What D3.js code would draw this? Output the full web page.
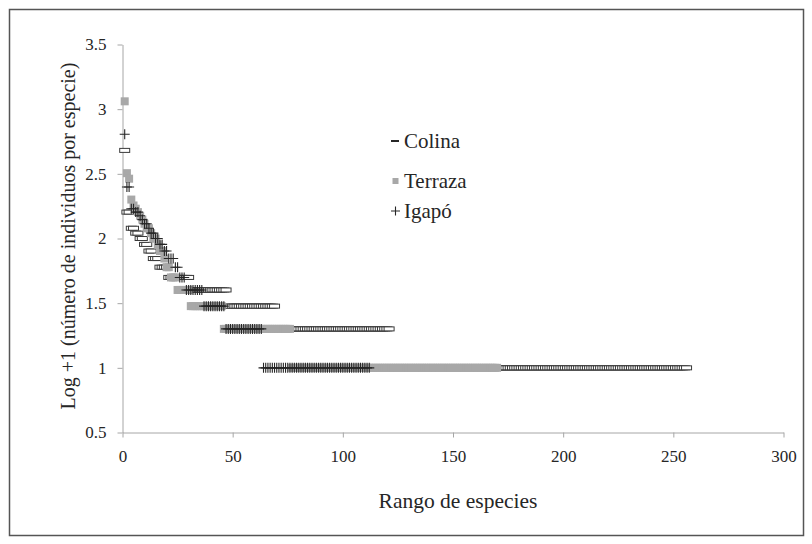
<!DOCTYPE html>
<html>
<head>
<meta charset="utf-8">
<script src="https://cdn.jsdelivr.net/npm/d3@7"></script>
<style>
  body { margin: 0; background: #fff; }
  text { font-family: "Liberation Serif", "Times New Roman", serif; fill: #262626; }
</style>
</head>
<body>
<div id="graphic"></div>
<script>
// abundance (individuals per species) and how many consecutive ranks share it
var colinaLevels = [48, 16, 12, 11, 10, 9, 8, 7, 6, 5, 4, 3, 2, 1];
var colinaRuns = [1, 2, 2, 2, 2, 2, 2, 3, 4, 10, 17, 22, 52, 135];

var terrazaLevels = [115, 32, 29, 20, 18, 17, 16, 15, 14, 13, 12, 11, 10, 9, 8, 7, 6, 5, 4, 3, 2, 1];
var terrazaRuns = [1, 1, 1, 1, 1, 1, 1, 1, 1, 1, 2, 1, 2, 1, 2, 1, 2, 3, 6, 15, 31, 94];

var igapoLevels = [64, 25, 17, 16, 15, 14, 13, 12, 11, 10, 9, 8, 7, 6, 5, 4, 3, 2, 1];
var igapoRuns = [1, 2, 2, 2, 1, 1, 2, 1, 2, 2, 2, 2, 3, 2, 3, 8, 10, 17, 49];

var xTicks = [0, 50, 100, 150, 200, 250, 300];
var yTicks = [0.5, 1, 1.5, 2, 2.5, 3, 3.5];

var legendNames = ["Colina", "Terraza", "Igapó"];

var toPoints = function(levels, runs) {
  var pts = [], rank = 0;
  levels.forEach(function(n, i) {
    for (var k = 0; k < runs[i]; k++) {
      rank += 1;
      pts.push([rank, Math.log10(n) + 1]);
    }
  });
  return pts;
};

var svg = d3.select("#graphic").append("svg").attr("width", 812).attr("height", 544);

svg.append("rect").attr("x", 9.5).attr("y", 9.5).attr("width", 794).attr("height", 526)
  .attr("fill", "#fff").attr("stroke", "#555").attr("stroke-width", 1.5);

var x = d3.scaleLinear().domain([0, 300]).range([122.5, 783.5]);
var y = d3.scaleLinear().domain([0.5, 3.5]).range([432.5, 44.5]);

var xAxis = svg.append("g").attr("transform", "translate(0,432.5)")
  .call(d3.axisBottom(x).tickValues(xTicks).tickSize(5).tickSizeOuter(0).tickPadding(12));
var yAxis = svg.append("g").attr("transform", "translate(122.5,0)")
  .call(d3.axisLeft(y).tickValues(yTicks).tickSize(5).tickSizeOuter(0).tickPadding(11)
    .tickFormat(function(d) { return String(d); }));

[xAxis, yAxis].forEach(function(g) {
  g.select(".domain").attr("stroke", "#a6a6a6");
  g.selectAll(".tick line").attr("stroke", "#a6a6a6");
  g.selectAll(".tick text").attr("font-size", 17).attr("font-family", "Liberation Serif").attr("fill", "#262626");
});

var plot = svg.append("g");

// Colina: hollow dash markers
plot.append("g").selectAll("rect").data(toPoints(colinaLevels, colinaRuns)).enter().append("rect")
  .attr("x", function(d) { return x(d[0]) - 5; })
  .attr("y", function(d) { return y(d[1]) - 2; })
  .attr("width", 10).attr("height", 4)
  .attr("fill", "#fff").attr("stroke", "#3a3a3a").attr("stroke-width", 1);

// Terraza: grey squares
plot.append("g").selectAll("rect").data(toPoints(terrazaLevels, terrazaRuns)).enter().append("rect")
  .attr("x", function(d) { return x(d[0]) - 4; })
  .attr("y", function(d) { return y(d[1]) - 4; })
  .attr("width", 8).attr("height", 8)
  .attr("fill", "#a8a8a8");

// Igapó: plus markers
plot.append("g").selectAll("path").data(toPoints(igapoLevels, igapoRuns)).enter().append("path")
  .attr("d", function(d) {
    var cx = x(d[0]), cy = y(d[1]);
    return "M" + (cx - 5) + "," + cy + "H" + (cx + 5) + "M" + cx + "," + (cy - 5) + "V" + (cy + 5);
  })
  .attr("stroke", "#262626").attr("stroke-width", 1.1).attr("fill", "none");

// legend
var legend = svg.append("g");
var legendY = [141, 181, 211];
legend.append("rect").attr("x", 391).attr("y", legendY[0] - 1).attr("width", 8).attr("height", 2).attr("fill", "#262626");
legend.append("rect").attr("x", 392.5).attr("y", legendY[1] - 3).attr("width", 6).attr("height", 6).attr("fill", "#a8a8a8");
legend.append("path").attr("d", "M391," + legendY[2] + "H400M395.5," + (legendY[2] - 4.5) + "V" + (legendY[2] + 4.5))
  .attr("stroke", "#262626").attr("stroke-width", 1.1);
legend.selectAll("text").data(legendNames).enter().append("text")
  .attr("x", 404).attr("y", function(d, i) { return legendY[i] + 7; })
  .attr("font-size", 21).text(function(d) { return d; });

// axis titles
svg.append("text").attr("x", 458).attr("y", 508).attr("text-anchor", "middle")
  .attr("font-size", 21.5).text("Rango de especies");
svg.append("text").attr("transform", "translate(75,236) rotate(-90)").attr("text-anchor", "middle")
  .attr("font-size", 20).text("Log +1 (número de individuos por especie)");
</script>
</body>
</html>
